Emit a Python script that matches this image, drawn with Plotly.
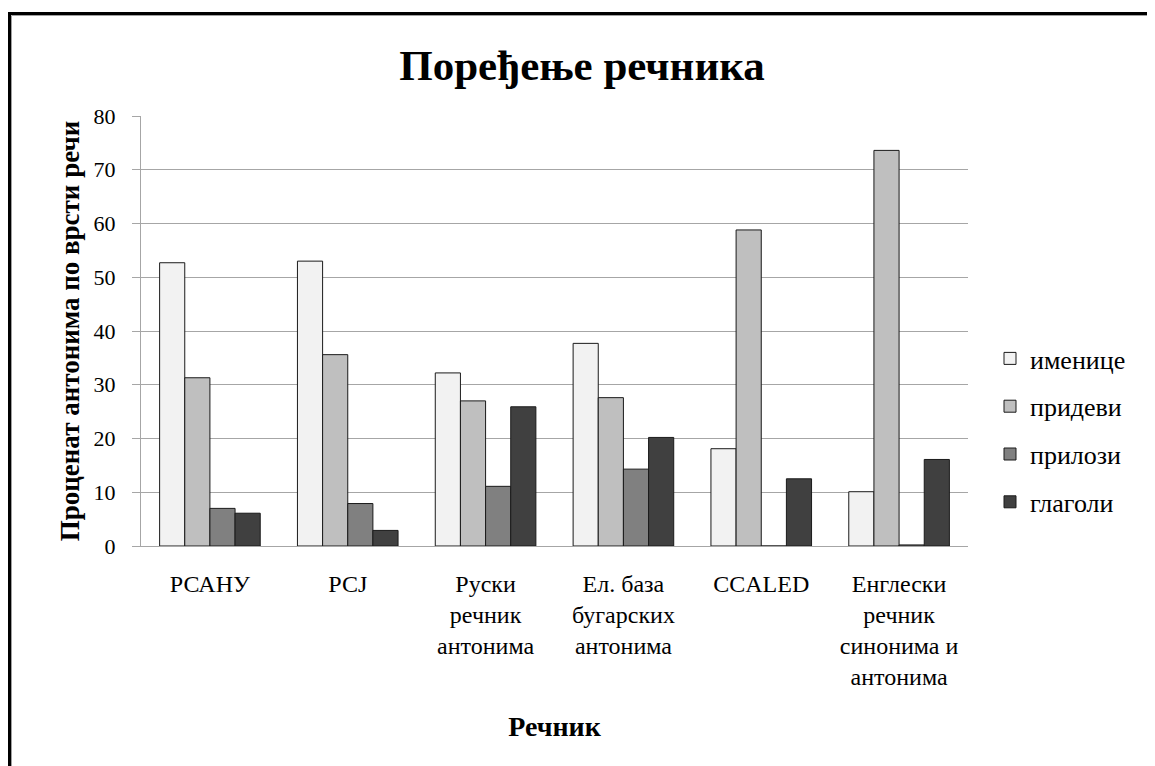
import plotly.graph_objects as go

categories = ["РСАНУ", "РСЈ", "Руски<br>речник<br>антонима", "Ел. база<br>бугарских<br>антонима",
              "CCALED", "Енглески<br>речник<br>синонима и<br>антонима"]
imenice = [52.7, 53.0, 32.2, 37.7, 18.1, 10.1]
pridevi = [31.3, 35.6, 27.0, 27.6, 58.8, 73.6]
prilozi = [7.0, 7.9, 11.1, 14.3, 0.0, 0.2]
glagoli = [6.1, 2.9, 25.9, 20.2, 12.5, 16.1]
series_names = ["именице", "придеви", "прилози", "глаголи"]
series_values = [imenice, pridevi, prilozi, glagoli]
colors = ["#F2F2F2", "#BFBFBF", "#808080", "#404040"]
y_ticks = [0, 10, 20, 30, 40, 50, 60, 70, 80]

FONT = "Liberation Serif"

fig = go.Figure()
for name, vals, col in zip(series_names, series_values, colors):
    fig.add_trace(go.Bar(
        x=categories, y=vals, name=name, legendgroup=name,
        marker=dict(color=col, line=dict(color="#1a1a1a", width=1)),
    ))

OFF = 8  # page body margin
W, H = 1155 - OFF, 766 - OFF
PL, PR, PT, PB = 141, 968, 116, 546  # plot area in page pixels
L, T = PL - OFF, PT - OFF
R, B = W - (PR - OFF), H - (PB - OFF)
pw, ph = PR - PL, PB - PT

def px_x(p):
    return (p - PL) / pw

def px_y(p):
    return (PB - p) / ph

fig.update_layout(
    width=W, height=H,
    margin=dict(l=L, r=R, t=T, b=B, autoexpand=False),
    paper_bgcolor="white", plot_bgcolor="white",
    font=dict(family=FONT, color="black", size=22),
    barmode="group", bargap=0.27, bargroupgap=0,
    title=dict(text="<b>Поређење речника</b>", x=(582 - OFF) / W, xanchor="center",
               y=1 - (65 - OFF) / H, yanchor="middle", font=dict(size=43, family=FONT, color="black")),
    legend=dict(x=px_x(990), y=px_y(335), xanchor="left", yanchor="top",
                font=dict(size=26, family=FONT, color="black"), tracegroupgap=11,
                itemwidth=30, bgcolor="rgba(0,0,0,0)"),
    xaxis=dict(
        showline=True, linecolor="#A6A6A6", linewidth=1,
        tickfont=dict(size=24, family=FONT, color="black"),
        ticks="", automargin=False, ticklabelstandoff=16,
        title=dict(text="<b>Речник</b>", font=dict(size=28, family=FONT, color="black"), standoff=26),
    ),
    yaxis=dict(
        range=[0, 80], tickvals=y_ticks, showgrid=True, gridcolor="#A6A6A6", gridwidth=1,
        showline=True, linecolor="#A6A6A6", linewidth=1, zeroline=False,
        ticks="outside", ticklen=8, tickcolor="#A6A6A6", ticklabelstandoff=12,
        tickfont=dict(size=22, family=FONT, color="black"), automargin=False,
        title=dict(text="<b>Проценат антонима по врсти речи</b>",
                   font=dict(size=27, family=FONT, color="black"), standoff=6),
    ),
    shapes=[
        dict(type="rect", xref="paper", yref="paper",
             x0=px_x(9.5), x1=px_x(1175), y0=px_y(800), y1=px_y(13.5),
             line=dict(color="black", width=3), layer="above"),
        dict(type="rect", xref="paper", yref="paper",
             x0=px_x(11.5), x1=px_x(1175), y0=px_y(800), y1=px_y(15.5),
             line=dict(color="#A0A0A0", width=1), layer="above"),
    ],
)

fig.write_html("out.html")
